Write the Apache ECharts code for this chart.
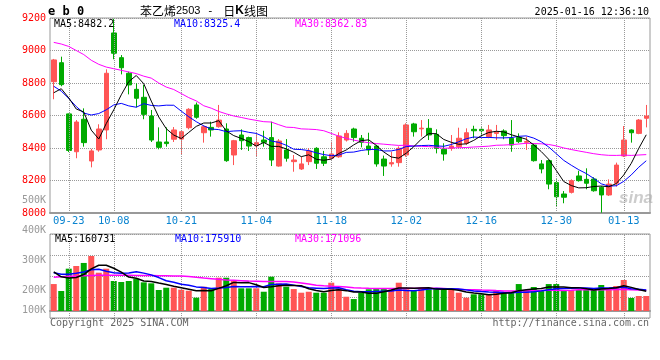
<!DOCTYPE html>
<html><head><meta charset="utf-8">
<script src="https://cdn.jsdelivr.net/npm/echarts@6/dist/echarts.min.js"></script>
<style>html,body{margin:0;padding:0;background:#fff}#c{width:660px;height:360px}</style>
</head><body><div id="c"></div>
<script>
// ---- data ----
const dates = ['09-19','09-20','09-23','09-24','09-25','09-26','09-27','09-30','10-08','10-09',
'10-10','10-11','10-14','10-15','10-16','10-17','10-18','10-21','10-22','10-23',
'10-24','10-25','10-28','10-29','10-30','10-31','11-01','11-04','11-05','11-06',
'11-07','11-08','11-11','11-12','11-13','11-14','11-15','11-18','11-19','11-20',
'11-21','11-22','11-25','11-26','11-27','11-28','11-29','12-02','12-03','12-04',
'12-05','12-06','12-09','12-10','12-11','12-12','12-13','12-16','12-17','12-18',
'12-19','12-20','12-23','12-24','12-25','12-26','12-27','12-30','12-31','01-02',
'01-03','01-06','01-07','01-08','01-09','01-10','01-13','01-14','01-15','01-16'];
const opens = [8808,8925,8610,8377,8577,8320,8388,8511,9108,8956,
8860,8761,8712,8597,8437,8437,8454,8455,8525,8665,
8494,8527,8531,8517,8357,8480,8464,8414,8449,8464,
8289,8388,8316,8271,8316,8398,8346,8337,8346,8449,
8517,8460,8412,8412,8332,8302,8310,8357,8548,8518,
8521,8484,8392,8398,8408,8429,8515,8515,8470,8490,
8505,8460,8464,8435,8418,8302,8322,8187,8117,8127,
8228,8207,8209,8158,8111,8183,8351,8511,8490,8583];
const closes = [8942,8790,8385,8560,8433,8382,8517,8860,8983,8894,
8788,8706,8607,8449,8404,8427,8511,8500,8638,8589,
8531,8511,8572,8322,8445,8445,8412,8433,8435,8326,
8443,8337,8326,8302,8382,8306,8306,8363,8474,8490,
8464,8435,8388,8302,8289,8310,8398,8542,8500,8522,
8480,8398,8363,8412,8460,8494,8506,8506,8511,8497,
8476,8418,8439,8440,8322,8271,8178,8100,8097,8199,
8199,8183,8137,8111,8178,8295,8449,8494,8572,8597];
const lows = [8700,8780,8375,8337,8408,8281,8377,8454,8946,8853,
8730,8650,8577,8437,8392,8408,8437,8363,8515,8580,
8433,8470,8525,8315,8295,8388,8382,8346,8408,8289,
8285,8316,8254,8265,8295,8271,8289,8330,8340,8440,
8439,8404,8357,8285,8228,8285,8285,8346,8470,8470,
8449,8367,8322,8383,8400,8418,8460,8470,8460,8449,
8454,8377,8430,8388,8316,8244,8146,8039,8060,8120,
8193,8146,8131,8002,8105,8162,8345,8433,8485,8527];
const highs = [8948,8962,8612,8572,8644,8395,8546,8884,9195,8972,
8870,8798,8788,8634,8527,8527,8529,8505,8645,8680,
8540,8562,8665,8552,8450,8515,8470,8490,8506,8562,
8455,8455,8357,8345,8398,8405,8382,8439,8497,8510,
8525,8480,8494,8420,8353,8377,8410,8552,8555,8572,
8578,8515,8429,8480,8525,8521,8537,8527,8542,8542,
8515,8572,8490,8470,8429,8326,8330,8207,8135,8207,
8260,8275,8220,8165,8207,8310,8535,8515,8578,8665];
// volume in thousands of lots
const volumesK = [221,164,347,369,394,451,314,347,246,238,
246,265,235,227,172,191,191,175,166,109,
199,180,273,273,246,186,186,186,158,281,
227,199,180,150,158,150,150,232,186,117,
98,150,178,180,180,172,232,178,172,191,
178,178,172,172,150,109,137,137,137,166,
153,158,221,172,197,172,221,221,172,172,
172,172,172,213,189,205,254,107,123,123];
const ma5Head = [8740,8765,8708,8640];
const ma10Head = [8780,8750,8705,8655,8615,8603,8612,8635,8665];
const ma30Head = [9050,9040,9025,9000,8975,8940,8915,8898,8888,8878,8868,8858,8842,8830,8800,
8775,8760,8735,8710,8690,8660,8645,8625,8610,8597,8588,8578,8570,8562];
const vma5Head = [320,280,270,275];
const vma10Head = [314,301,301,309,320,339,343,326,314];
const vma30Head = [276,280,284,288,290,292,293,293,293,293,293,292,292,291,290,289,288,287,283,276,
270,265,260,255,252,249,246,244,242];
const tickDates = ['09-23','10-08','10-21','11-04','11-18','12-02','12-16','12-30','01-13'];
const priceMin = 8000, priceMax = 9200, priceStep = 200;
const volLabels = ['100K','200K','300K','400K','500K'];
const volLabelSteps = [0,20,50,80,110];
const maPriceLegend = ['MA5:8482.2','MA10:8325.4','MA30:8362.83'];
const maVolLegend = ['MA5:160731','MA10:175910','MA30:171096'];
const titleName = '苯乙烯', titleCode = '2503', titleSep = ' - ', titleTail = '日', titleK = 'K', titleEnd = '线图';
const symbolText = 'e b 0';
const stampText = '2025-01-16 12:36:10';

// ---- styles ----
const UP = '#ff5555', DOWN = '#00aa00';
const MONO = '"DejaVu Sans Mono", "Liberation Mono", monospace';
const GRIDC = '#999999';
const dotted = {type: 'dotted', color: GRIDC, width: 1};

function movingAvg(vals, n, head) {
  return vals.map((v, i) => {
    if (i < n - 1) return head[i];
    let s = 0;
    for (let k = i - n + 1; k <= i; k++) s += vals[k];
    return +(s / n).toFixed(2);
  });
}

const candleData = dates.map((d, i) => [opens[i], closes[i], lows[i], highs[i]]);
const volData = volumesK.map((v, i) => ({value: v, itemStyle: {color: closes[i] >= opens[i] ? UP : DOWN}}));
function vLines() {
  return {silent: true, symbol: ['none', 'none'], label: {show: false}, lineStyle: Object.assign({}, dotted),
    emphasis: {disabled: true}, data: tickDates.map(d => ({xAxis: d}))};
}

const chart = echarts.init(document.getElementById('c'), null, {renderer: 'canvas'});
chart.setOption({
  animation: false,
  backgroundColor: '#fff',
  grid: [
    {left: 50, top: 18, width: 600, height: 195, show: true, borderColor: '#999', borderWidth: 1},
    {left: 50, top: 234, width: 600, height: 84, show: true, borderColor: '#999', borderWidth: 1},
    {left: 50, top: 200.3, width: 600, height: 110.4, show: false}
  ],
  xAxis: [
    {type: 'category', gridIndex: 0, data: dates, boundaryGap: true,
     axisLine: {lineStyle: {color: '#999', width: 2}}, axisTick: {show: false},
     axisLabel: {interval: (idx, val) => tickDates.includes(val), color: '#0a84d0', fontSize: 10.5,
       fontFamily: MONO, margin: 3}, splitLine: {show: false}},
    {type: 'category', gridIndex: 1, data: dates, boundaryGap: true,
     axisLine: {lineStyle: {color: '#999', width: 2}}, axisTick: {show: false},
     axisLabel: {show: false}, splitLine: {show: false}},
    {type: 'value', gridIndex: 2, show: false}
  ],
  yAxis: [
    {type: 'value', gridIndex: 0, min: priceMin, max: priceMax, interval: priceStep,
     axisLine: {show: false}, axisTick: {show: false},
     axisLabel: {color: '#ff0000', fontSize: 10, fontFamily: MONO, margin: 4, formatter: v => String(v)},
     splitLine: {show: true, lineStyle: dotted}},
    {type: 'value', gridIndex: 1, min: -57.4, max: 631.4, show: false, splitLine: {show: false}},
    {type: 'value', gridIndex: 1, min: 0, max: 4, interval: 1, axisLine: {show: false}, axisTick: {show: false},
     axisLabel: {show: false}, splitLine: {show: true, lineStyle: dotted}},
    {type: 'value', gridIndex: 2, min: 0, max: 110, interval: 10, axisLine: {show: false},
     axisTick: {show: false}, splitLine: {show: false},
     axisLabel: {color: '#999', fontSize: 10, fontFamily: MONO, margin: 4,
       formatter: v => { const k = volLabelSteps.indexOf(v); return k >= 0 ? volLabels[k] : ''; }}}
  ],
  series: [
    {type: 'candlestick', xAxisIndex: 0, yAxisIndex: 0, data: candleData, barWidth: 5, z: 3,
     itemStyle: {color: UP, color0: DOWN, borderColor: UP, borderColor0: DOWN, borderWidth: 1},
     markLine: vLines()},
    {type: 'line', xAxisIndex: 0, yAxisIndex: 0, data: movingAvg(closes, 30, ma30Head), symbol: 'none', z: 6,
     lineStyle: {color: '#ff00ff', width: 1}},
    {type: 'line', xAxisIndex: 0, yAxisIndex: 0, data: movingAvg(closes, 10, ma10Head), symbol: 'none', z: 6,
     lineStyle: {color: '#0000ff', width: 1}},
    {type: 'line', xAxisIndex: 0, yAxisIndex: 0, data: movingAvg(closes, 5, ma5Head), symbol: 'none', z: 6,
     lineStyle: {color: '#000000', width: 1}},
    {type: 'bar', xAxisIndex: 1, yAxisIndex: 1, data: volData, barWidth: 6, z: 3, markLine: vLines()},
    {type: 'line', xAxisIndex: 1, yAxisIndex: 1, data: movingAvg(volumesK, 30, vma30Head), symbol: 'none', z: 6,
     lineStyle: {color: '#ff00ff', width: 1.5}},
    {type: 'line', xAxisIndex: 1, yAxisIndex: 1, data: movingAvg(volumesK, 10, vma10Head), symbol: 'none', z: 6,
     lineStyle: {color: '#0000ff', width: 1.5}},
    {type: 'line', xAxisIndex: 1, yAxisIndex: 1, data: movingAvg(volumesK, 5, vma5Head), symbol: 'none', z: 6,
     lineStyle: {color: '#000000', width: 1.5}}
  ],
  graphic: [
    {type: 'text', x: 48, y: 12, z: 10, style: {text: symbolText, font: 'bold 12px ' + MONO, fill: '#000',
      textAlign: 'left', textVerticalAlign: 'middle'}},
    {type: 'text', x: 140, y: 11, z: 10, style: {
      text: '{a|' + titleName + '}{b|' + titleCode + '}{m|' + titleSep + '}{a|' + titleTail + '}{k|' + titleK + '}{a|' + titleEnd + '}',
      textAlign: 'left', textVerticalAlign: 'middle',
      rich: {a: {fontFamily: '"Noto Sans CJK SC"', fontSize: 12, color: '#000'},
             b: {fontFamily: 'Arial, "Liberation Sans"', fontSize: 11, color: '#666'},
             m: {fontFamily: MONO, fontSize: 11, color: '#000', padding: [0, 3, 0, 0]},
             k: {fontFamily: '"Liberation Sans"', fontSize: 12, fontWeight: 'bold', color: '#000'}}}},
    {type: 'text', x: 649, y: 12, z: 10, style: {text: stampText, font: '10px ' + MONO, fill: '#000',
      textAlign: 'right', textVerticalAlign: 'middle'}},
    {type: 'text', x: 54, y: 24, z: 10, style: {text: maPriceLegend[0], font: '10px ' + MONO, fill: '#000',
      textAlign: 'left', textVerticalAlign: 'middle'}},
    {type: 'text', x: 174, y: 24, z: 10, style: {text: maPriceLegend[1], font: '10px ' + MONO, fill: '#0000ff',
      textAlign: 'left', textVerticalAlign: 'middle'}},
    {type: 'text', x: 295, y: 24, z: 10, style: {text: maPriceLegend[2], font: '10px ' + MONO, fill: '#ff00ff',
      textAlign: 'left', textVerticalAlign: 'middle'}},
    {type: 'text', x: 55, y: 239, z: 10, style: {text: maVolLegend[0], font: '10px ' + MONO, fill: '#000',
      textAlign: 'left', textVerticalAlign: 'middle'}},
    {type: 'text', x: 175, y: 239, z: 10, style: {text: maVolLegend[1], font: '10px ' + MONO, fill: '#0000ff',
      textAlign: 'left', textVerticalAlign: 'middle'}},
    {type: 'text', x: 295, y: 239, z: 10, style: {text: maVolLegend[2], font: '10px ' + MONO, fill: '#ff00ff',
      textAlign: 'left', textVerticalAlign: 'middle'}},
    {type: 'text', x: 50, y: 323, z: 10, style: {text: 'Copyright 2025 SINA.COM', font: '10px ' + MONO, fill: '#666',
      textAlign: 'left', textVerticalAlign: 'middle'}},
    {type: 'text', x: 649, y: 323, z: 10, style: {text: 'http://finance.sina.com.cn', font: '10px ' + MONO, fill: '#666',
      textAlign: 'right', textVerticalAlign: 'middle'}},
    {type: 'text', x: 636, y: 198, z: 10, style: {text: 'sina', font: 'italic bold 17px "Liberation Sans"',
      fill: 'rgba(170,170,170,0.6)', textAlign: 'center', textVerticalAlign: 'middle'}}
  ]
});
</script></body></html>
